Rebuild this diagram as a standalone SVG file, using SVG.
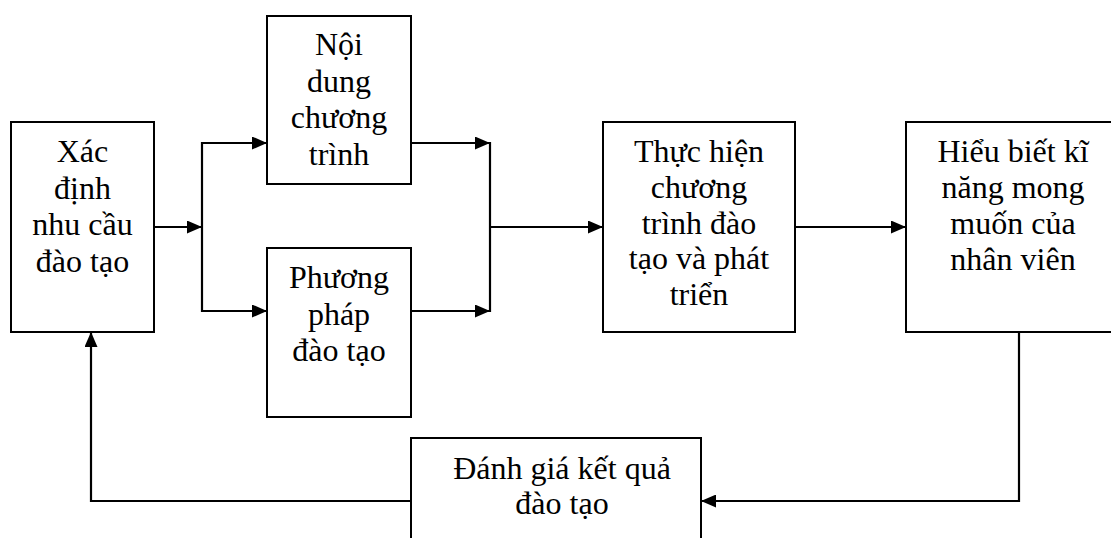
<svg xmlns="http://www.w3.org/2000/svg" width="1111" height="538" viewBox="0 0 1111 538">
<style>
.box{fill:#fff;stroke:#000;stroke-width:2}
.t{font-family:"Liberation Serif","Times New Roman",serif;font-size:32px;fill:#000;text-anchor:middle}
.c{fill:none;stroke:#000;stroke-width:2.2}
</style>
<defs>
<marker id="ah" markerUnits="userSpaceOnUse" markerWidth="15" markerHeight="13" refX="15" refY="6.5" orient="auto">
<path d="M0,0 L15,6.5 L0,13 z" fill="#000"/>
</marker>
</defs>
<rect width="1111" height="538" fill="#fff"/>
<g id="n-xacdinh">
<rect class="box" x="11" y="122" width="143" height="210"/>
<text class="t" x="82.5" y="162">Xác</text>
<text class="t" x="82.5" y="198.5">định</text>
<text class="t" x="82.5" y="235">nhu cầu</text>
<text class="t" x="82.5" y="271.5">đào tạo</text>
</g>
<g id="n-noidung">
<rect class="box" x="267" y="16" width="144" height="168"/>
<text class="t" x="339" y="55">Nội</text>
<text class="t" x="339" y="91.5">dung</text>
<text class="t" x="339" y="128">chương</text>
<text class="t" x="339" y="164.5">trình</text>
</g>
<g id="n-phuongphap">
<rect class="box" x="267" y="248" width="144" height="169"/>
<text class="t" x="339" y="288">Phương</text>
<text class="t" x="339" y="324.5">pháp</text>
<text class="t" x="339" y="361">đào tạo</text>
</g>
<g id="n-thuchien">
<rect class="box" x="603" y="122" width="192" height="210"/>
<text class="t" x="699" y="162">Thực hiện</text>
<text class="t" x="699" y="197.8">chương</text>
<text class="t" x="699" y="233.6">trình đào</text>
<text class="t" x="699" y="269.4">tạo và phát</text>
<text class="t" x="699" y="305">triển</text>
</g>
<g id="n-hieubiet">
<rect class="box" x="906" y="122" width="214" height="210"/>
<text class="t" x="1013" y="162">Hiểu biết kĩ</text>
<text class="t" x="1013" y="198">năng mong</text>
<text class="t" x="1013" y="234">muốn của</text>
<text class="t" x="1013" y="270">nhân viên</text>
</g>
<g id="n-danhgia">
<rect class="box" x="411" y="438" width="290" height="120"/>
<text class="t" x="562" y="479">Đánh giá kết quả</text>
<text class="t" x="562" y="514">đào tạo</text>
</g>
<g id="connectors">
<line class="c" x1="154" y1="227" x2="202" y2="227" marker-end="url(#ah)"/>
<line class="c" x1="202" y1="142" x2="202" y2="312"/>
<line class="c" x1="201" y1="143" x2="267" y2="143" marker-end="url(#ah)"/>
<line class="c" x1="201" y1="311" x2="267" y2="311" marker-end="url(#ah)"/>
<line class="c" x1="411" y1="143" x2="490" y2="143" marker-end="url(#ah)"/>
<line class="c" x1="411" y1="311" x2="490" y2="311" marker-end="url(#ah)"/>
<line class="c" x1="490" y1="142" x2="490" y2="312"/>
<line class="c" x1="489" y1="227" x2="603" y2="227" marker-end="url(#ah)"/>
<line class="c" x1="795" y1="227" x2="906" y2="227" marker-end="url(#ah)"/>
<polyline class="c" points="1019,332 1019,501 701,501" marker-end="url(#ah)"/>
<polyline class="c" points="411,501 91,501 91,332" marker-end="url(#ah)"/>
</g>
</svg>
